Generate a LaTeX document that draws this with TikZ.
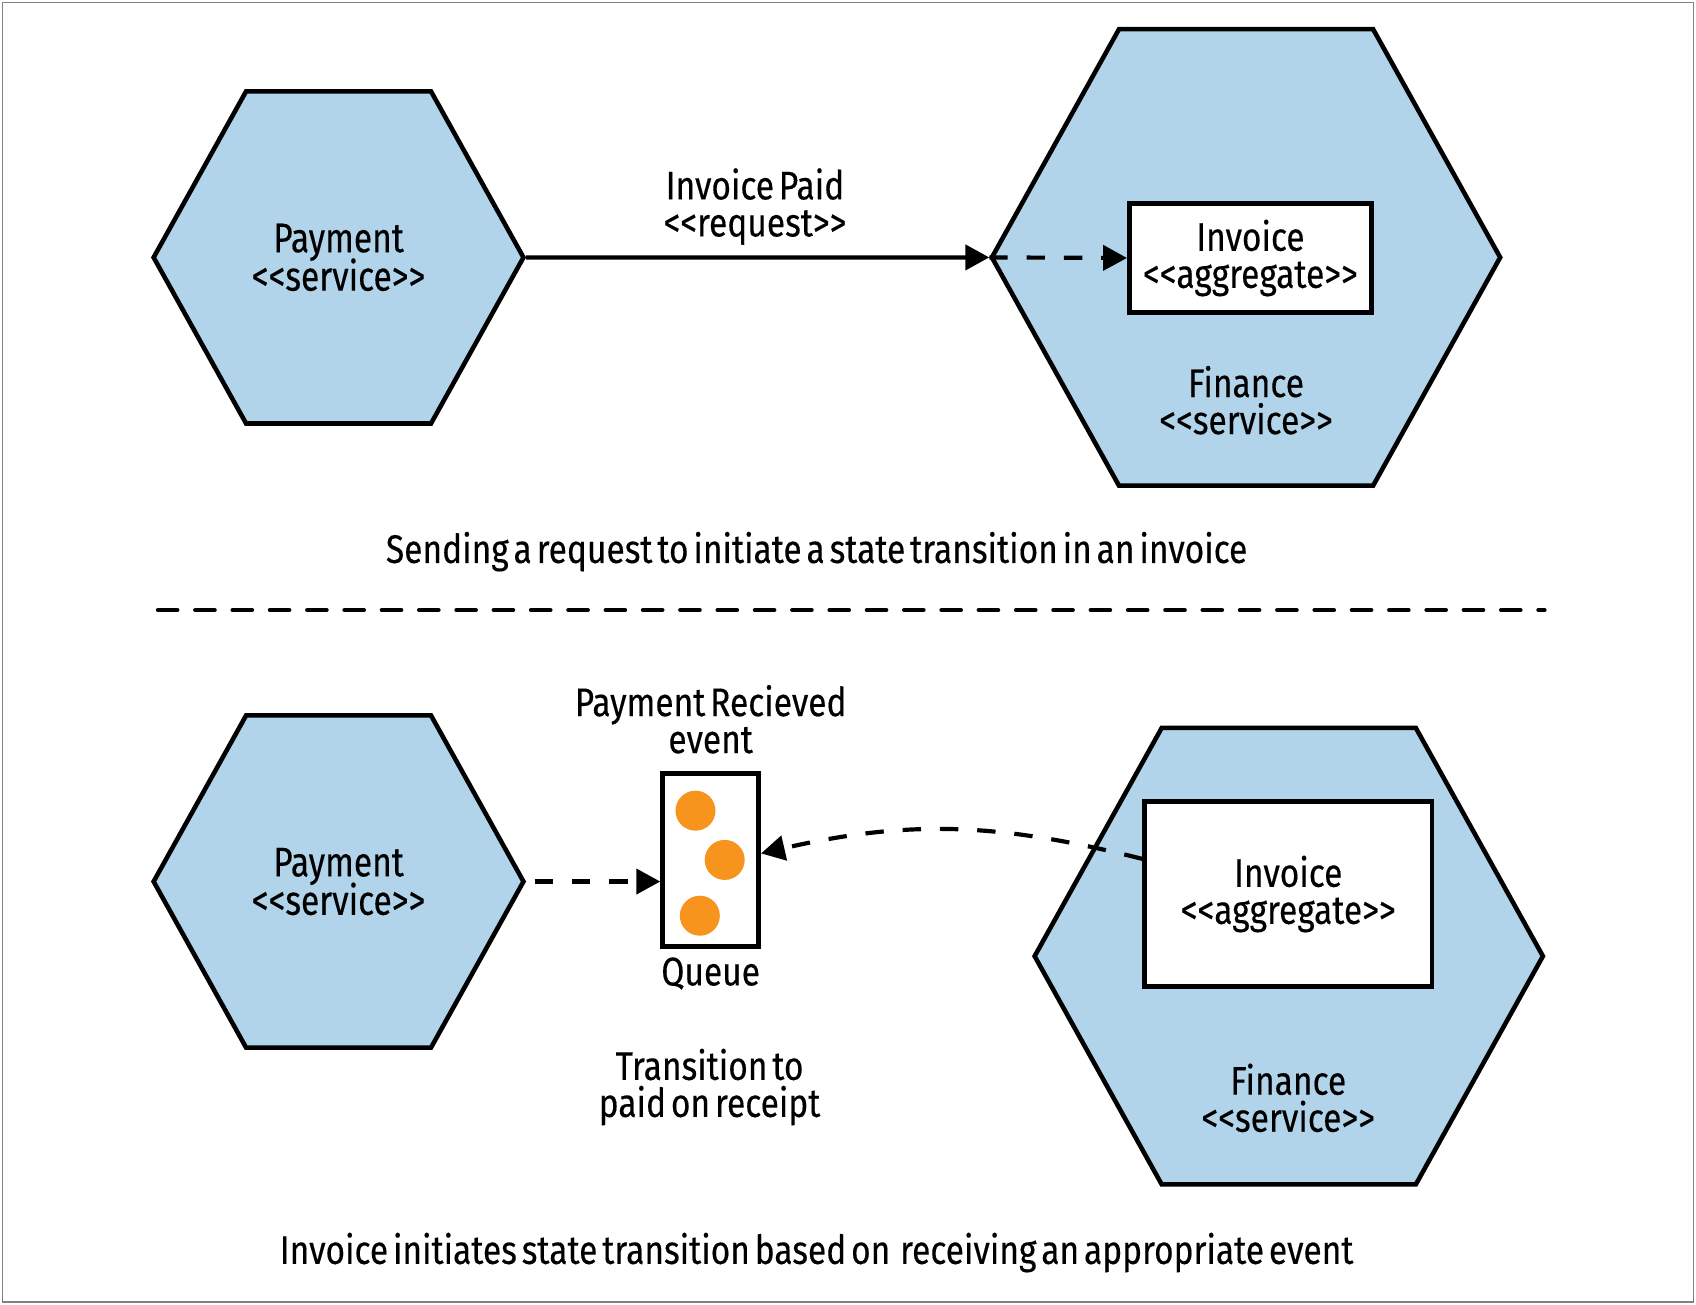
\documentclass[tikz,border=0pt]{standalone}
\usepackage{fontspec}
\setmainfont{Fira Sans}[FakeStretch=0.84, WordSpace=0.55, FakeBold=0.3]
\usetikzlibrary{shapes.geometric,arrows.meta,positioning}
\definecolor{hexblue}{HTML}{B1D4EA}
\definecolor{dotorange}{HTML}{F7941D}
\newcommand{\stereo}[1]{<{}<#1>{}>}
\newcommand{\labelfont}{\fontsize{21pt}{19.5pt}\selectfont\setlength{\lineskiplimit}{-1cm}}

\begin{document}
\begin{tikzpicture}[
		x=0.02cm, y=-0.02cm,
		every node/.style = {font=\labelfont, align=center},
		hexa/.style = {regular polygon, regular polygon sides=6,
			draw, line width=2.4pt, fill=hexblue, inner sep=0pt,
			yscale=1.037, transform shape},
		small hexa/.style = {hexa, minimum size=6.84cm},
		big hexa/.style = {hexa, minimum size=9.4cm},
		box/.style = {draw, line width=2.4pt, fill=white, inner sep=0pt},
		dot/.style = {circle, fill=dotorange, minimum size=0.74cm, inner sep=0pt},
		conn/.style = {line width=2.2pt, -{Triangle[length=0.44cm, width=0.46cm]}},
		dashconn/.style = {conn, dash pattern=on 0.34cm off 0.35cm}]
		\useasboundingbox (0,0) rectangle (1568,1206);
		\draw[gray, line width=0.8pt] (2.5,2.5) rectangle (1565.5,1203.5);
		
		\node[small hexa] (pay1) at (313,238) {Payment\\\stereo{service}};
		\node[big hexa] (fin1) at (1152,238) {};
		\node[box, minimum width=4.48cm, minimum height=2.02cm] (inv1) at (1156,238.5) {Invoice\\\stereo{aggregate}};
		\node (fin1text) at (1152,370) {Finance\\\stereo{service}};
		\node (reqtext) at (698,191) {Invoice Paid\\\stereo{request}};
		\draw[conn] (pay1.east) -- (fin1.west);
		\draw[dashconn] (fin1.west) -- (inv1.west);
		\node (cap1) at (755,510) {Sending a request to initiate a state transition in an invoice};
		
		\draw[line width=2.2pt, line cap=round, dash pattern=on 0.36cm off 0.33cm] (146,564) -- (1428,564);
		
		\node[small hexa] (pay2) at (313,815) {Payment\\\stereo{service}};
		\node[box, minimum width=1.78cm, minimum height=3.2cm] (queue) at (657,795) {};
		\foreach \x/\y [count=\i] in {643/749.5, 670/795, 647/846.6}
			\node[dot] (dot\i) at (\x,\y) {};
		\node (evttext) at (657,665) {Payment Recieved\\event};
		\node (queuetext) at (657,900) {Queue};
		\node (transtext) at (656,1005) {Transition to\\paid on receipt};
		\node[big hexa] (fin2) at (1191.5,884) {};
		\node[box, minimum width=5.32cm, minimum height=3.42cm] (inv2) at (1191,826.5) {Invoice\\\stereo{aggregate}};
		\node (fin2text) at (1191,1015) {Finance\\\stereo{service}};
		\draw[dashconn] ([xshift=0.16cm]pay2.east) -- (pay2.east -| queue.west);
		\draw[dashconn] ([yshift=0.65cm]inv2.west) .. controls +(-135,-34) and +(135,-31) .. ([yshift=0.12cm]queue.east);
		\node (cap2) at (755,1158) {Invoice initiates state transition based on\ \ receiving an appropriate event};
\end{tikzpicture}
\end{document}
